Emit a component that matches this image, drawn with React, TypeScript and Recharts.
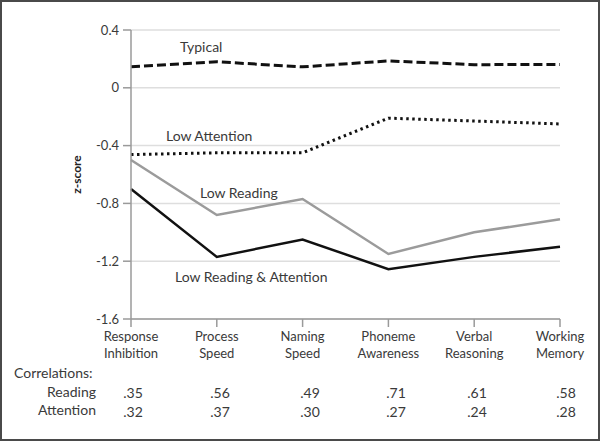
import React from 'react';
import {
  LineChart,
  Line,
  XAxis,
  YAxis,
  CartesianGrid,
} from 'recharts';

const categories = [
  'Response Inhibition',
  'Process Speed',
  'Naming Speed',
  'Phoneme Awareness',
  'Verbal Reasoning',
  'Working Memory',
];
const typical = [0.145, 0.18, 0.145, 0.186, 0.16, 0.162];
const lowAttention = [-0.462, -0.45, -0.45, -0.21, -0.23, -0.25];
const lowReading = [-0.5, -0.88, -0.77, -1.15, -1.0, -0.91];
const lowBoth = [-0.7, -1.17, -1.05, -1.255, -1.17, -1.1];
const readingCorr = ['.35', '.56', '.49', '.71', '.61', '.58'];
const attentionCorr = ['.32', '.37', '.30', '.27', '.24', '.28'];
const yTicks = [0.4, 0, -0.4, -0.8, -1.2, -1.6];

const data = categories.map((name, i) => ({
  name,
  typical: typical[i],
  lowAttention: lowAttention[i],
  lowReading: lowReading[i],
  lowBoth: lowBoth[i],
}));

const FONT = 'Lato, "Open Sans", sans-serif';
const TEXT = '#3a3a3a';
const PLOT_LEFT = 131;
// centres of the correlation table columns
const CORR_X = [133, 220, 310, 396, 477, 566];

const XTick = (props: any) => {
  const { x, y, payload } = props;
  const words = String(payload.value).split(' ');
  return (
    <text x={x} y={y} textAnchor="middle" fill={TEXT} fontSize={13} fontFamily={FONT}>
      {words.map((w, i) => (
        <tspan key={i} x={x} dy={i === 0 ? 12 : 17}>
          {w}
        </tspan>
      ))}
    </text>
  );
};

const YTick = (props: any) => {
  const { y, payload } = props;
  const v = payload.value;
  return (
    <text
      x={PLOT_LEFT - 12}
      y={y}
      dy={4.5}
      textAnchor="end"
      fill={TEXT}
      fontSize={13}
      fontFamily={FONT}
    >
      {v === 0 ? '0' : String(v)}
    </text>
  );
};

const labelStyle: React.CSSProperties = {
  position: 'absolute',
  fontFamily: FONT,
  fontSize: 14,
  color: TEXT,
  whiteSpace: 'nowrap',
  lineHeight: '16px',
};

export default function App() {
  return (
    <div
      style={{
        position: 'absolute',
        left: 0,
        top: 0,
        width: 600,
        height: 441,
        background: '#fff',
        boxSizing: 'border-box',
        border: '2px solid #4a4a4a',
      }}
    >
      <div style={{ position: 'absolute', left: -2, top: -2 }}>
        <LineChart
          width={600}
          height={441}
          data={data}
          margin={{ top: 30, right: 40, bottom: 82, left: 71 }}
        >
          <CartesianGrid vertical={false} stroke="#dedede" strokeWidth={1.5} />
          <XAxis
            dataKey="name"
            tick={<XTick />}
            tickSize={8}
            interval={0}
            stroke="#9a9a9a"
            strokeWidth={1.5}
            height={40}
          />
          <YAxis
            domain={[-1.6, 0.4]}
            ticks={yTicks}
            tickSize={8}
            width={60}
            stroke="#9a9a9a"
            strokeWidth={1.5}
            tick={<YTick />}
            label={{
              value: 'z-score',
              angle: -90,
              position: 'insideLeft',
              offset: 6,
              style: { fill: '#222', fontSize: 12, fontWeight: 700, fontFamily: FONT, textAnchor: 'middle' },
            }}
          />
          <Line
            dataKey="typical"
            stroke="#111"
            strokeWidth={3}
            strokeDasharray="9 4"
            dot={false}
            isAnimationActive={false}
          />
          <Line
            dataKey="lowAttention"
            stroke="#111"
            strokeWidth={3}
            strokeDasharray="2.5 3.5"
            dot={false}
            isAnimationActive={false}
          />
          <Line
            dataKey="lowReading"
            stroke="#9b9b9b"
            strokeWidth={2.5}
            dot={false}
            isAnimationActive={false}
          />
          <Line
            dataKey="lowBoth"
            stroke="#111"
            strokeWidth={2.5}
            dot={false}
            isAnimationActive={false}
          />
        </LineChart>

        <div style={{ ...labelStyle, left: 180, top: 39 }}>Typical</div>
        <div style={{ ...labelStyle, left: 166, top: 128 }}>Low Attention</div>
        <div style={{ ...labelStyle, left: 200, top: 185 }}>Low Reading</div>
        <div style={{ ...labelStyle, left: 175, top: 269 }}>Low Reading &amp; Attention</div>

        <div style={{ ...labelStyle, left: 14, top: 365 }}>Correlations:</div>
        <div style={{ ...labelStyle, left: 0, width: 96, textAlign: 'right', top: 384 }}>Reading</div>
        <div style={{ ...labelStyle, left: 0, width: 96, textAlign: 'right', top: 402 }}>Attention</div>
        {readingCorr.map((v, i) => (
          <div
            key={'r' + i}
            style={{ ...labelStyle, left: CORR_X[i] - 20, width: 40, textAlign: 'center', top: 385 }}
          >
            {v}
          </div>
        ))}
        {attentionCorr.map((v, i) => (
          <div
            key={'a' + i}
            style={{ ...labelStyle, left: CORR_X[i] - 20, width: 40, textAlign: 'center', top: 404 }}
          >
            {v}
          </div>
        ))}
      </div>
    </div>
  );
}
